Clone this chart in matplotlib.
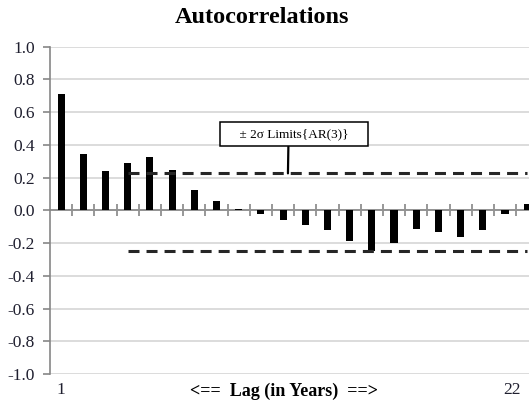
import numpy as np
import matplotlib
matplotlib.use("Agg")
import matplotlib.pyplot as plt
from matplotlib.transforms import blended_transform_factory

# autocorrelation by lag (years)
lags = np.arange(1, 23)
acf = [0.714, 0.347, 0.24, 0.29, 0.326, 0.249, 0.127, 0.057, 0.01, -0.025,
       -0.06, -0.09, -0.12, -0.19, -0.25, -0.2, -0.115, -0.13, -0.16, -0.12,
       -0.02, 0.04]

# +/- 2 sigma limits of the AR(3) model, from lag 4 on
limit_lags = np.arange(4, 23)
upper_limit = [0.226] * len(limit_lags)
lower_limit = [-0.246] * len(limit_lags)

yticks = np.round(np.arange(-1.0, 1.01, 0.2), 1)

plt.rcParams["font.family"] = ["Liberation Serif", "DejaVu Serif"]

fig = plt.figure(figsize=(5.29, 4.09), dpi=100)
ax = fig.add_axes([0.0945, 0.0856, 0.9055, 0.8002])

ax.set_ylim(-1.0, 1.0)
ax.set_xlim(0.5, 22.08)
ax.set_yticks(yticks)
ax.set_yticklabels([f"{abs(v):.1f}" if v == 0 else f"{v:.1f}" for v in yticks],
                   fontsize=12.5, color="#1f1f2f")
ax.yaxis.grid(True, color="#d9d9d9", linewidth=1.3)
ax.set_axisbelow(True)

ax.bar(lags, acf, width=0.32, color="black", zorder=3)

ax.plot(limit_lags, upper_limit, color="#262626", linewidth=2.2,
        dashes=(3.6, 2.3), zorder=4)
ax.plot(limit_lags, lower_limit, color="#262626", linewidth=2.2,
        dashes=(3.6, 2.3), zorder=4)

# spines: left gray, x axis through zero
for side in ["top", "right"]:
    ax.spines[side].set_visible(False)
ax.spines["left"].set_color("#868686")
ax.spines["left"].set_linewidth(1.2)
ax.spines["bottom"].set_position(("data", 0))
ax.spines["bottom"].set_color("#868686")
ax.spines["bottom"].set_linewidth(1.2)
ax.spines["bottom"].set_zorder(2)

ax.tick_params(axis="y", length=5, width=1.2, color="#868686", pad=6)
ax.set_xticks(lags[:-1] + 0.5)
ax.set_xticklabels([])
ax.tick_params(axis="x", direction="inout", length=9, width=1.2,
               color="#868686")

# category labels at the bottom, only first and last
tr = blended_transform_factory(ax.transData, ax.transAxes)
ax.text(lags[0], -0.05, str(lags[0]), transform=tr, ha="center", va="center",
        fontsize=12.5, color="#1f1f2f")
ax.text(lags[-1] - 0.3, -0.05, str(lags[-1]), transform=tr, ha="right",
        va="center", fontsize=12.5, color="#1f1f2f")
ax.text(284 / 529, 0.043, "<==  Lag (in Years)  ==>", transform=fig.transFigure,
        ha="center", va="center", fontsize=13, fontweight="bold")

fig.text(262 / 529, 0.957, "Autocorrelations", ha="center", va="center",
         fontsize=17.5, fontweight="bold")

ax.annotate("    \u00b1 2\u03c3 Limits{AR(3)}    ", xy=(11.22, upper_limit[0]),
            xytext=(11.49, 0.465), ha="center", va="center", fontsize=9.5,
            bbox=dict(boxstyle="square,pad=0.45", fc="white", ec="black", lw=1.1),
            arrowprops=dict(arrowstyle="-", color="black", lw=1.6,
                            relpos=(0.46, 0.0), shrinkA=0, shrinkB=0),
            zorder=5)

fig.savefig("out.png", dpi=100)
